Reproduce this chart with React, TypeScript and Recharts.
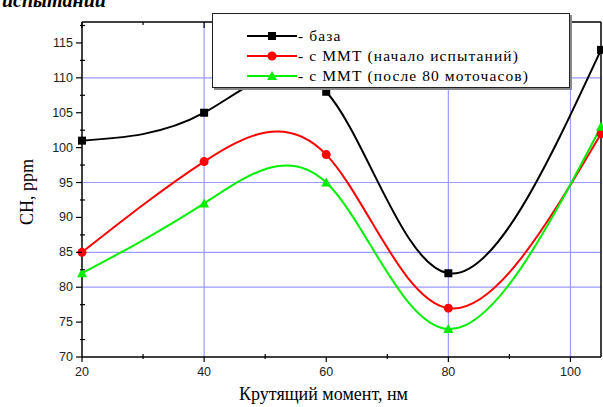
import { LineChart, Line, XAxis, YAxis, ReferenceLine, Legend } from "recharts";

// крутящий момент, нм
const torque = [20, 40, 60, 80, 105];
// CH, ppm
const baseCH = [101, 105, 108, 82, 114];
const mmtStartCH = [85, 98, 99, 77, 102];
const mmtAfter80CH = [82, 92, 95, 74, 103];

const seriesNames = ["база", "с ММТ (начало испытаний)", "с ММТ (после 80 моточасов)"];
const seriesColors = ["#000000", "#ff0000", "#00ee00"];

const xTicks = [20, 30, 40, 50, 60, 70, 80, 90, 100];
const yTicks = [70, 72.5, 75, 77.5, 80, 82.5, 85, 87.5, 90, 92.5, 95, 97.5, 100, 102.5, 105, 107.5, 110, 112.5, 115, 117.5];
const gridY = [80, 85, 95, 110];
const gridX = [40, 80, 100];

const data = torque.map((t, i) => ({
  t,
  base: baseCH[i],
  start: mmtStartCH[i],
  after: mmtAfter80CH[i],
}));

const tickFont = { fontFamily: "Liberation Sans, Arial, sans-serif", fontSize: 12.5, fill: "#222" };
const serif = "'Liberation Serif', 'Times New Roman', serif";
const gridColor = "#9a9aff";

const LeftTick = ({ x, y, payload }: any) => {
  const major = payload.value % 5 === 0;
  return (
    <g>
      <line x1={major ? x - 6 : x - 2} x2={major ? x : x + 3} y1={y} y2={y} stroke="#000" strokeWidth={1.2} />
      {major && (
        <text x={x - 9} y={y} dy={4} textAnchor="end" {...tickFont}>
          {payload.value}
        </text>
      )}
    </g>
  );
};

const RightTick = ({ x, y, payload }: any) => {
  const major = payload.value % 5 === 0;
  return <line x1={x} x2={x - (major ? 6 : 3)} y1={y} y2={y} stroke="#000" strokeWidth={1.2} />;
};

const BottomTick = ({ x, y, payload }: any) => {
  const major = payload.value % 20 === 0;
  return (
    <g>
      <line x1={x} x2={x} y1={major ? y + 5 : y + 2} y2={major ? y : y - 3} stroke="#000" strokeWidth={1.2} />
      {major && (
        <text x={x} y={y + 19} textAnchor="middle" {...tickFont}>
          {payload.value}
        </text>
      )}
    </g>
  );
};

const TopTick = ({ x, y, payload }: any) => {
  const major = payload.value % 20 === 0;
  return <line x1={x} x2={x} y1={y} y2={y + (major ? 6 : 3)} stroke="#000" strokeWidth={1.2} />;
};

const Square = ({ cx, cy, index }: any) => (
  <rect key={`s-${index}`} x={cx - 4} y={cy - 4} width={8} height={8} fill="#000" />
);
const Circle = ({ cx, cy, index }: any) => (
  <circle key={`c-${index}`} cx={cx} cy={cy} r={4.5} fill="#ff0000" />
);
const Triangle = ({ cx, cy, index }: any) => (
  <path key={`t-${index}`} d={`M${cx},${cy - 5}L${cx + 5},${cy + 4}L${cx - 5},${cy + 4}Z`} fill="#00ee00" />
);

const markerIcon = (i: number) => {
  const c = seriesColors[i];
  if (i === 0) return <rect x={21} y={2} width={8} height={8} fill={c} />;
  if (i === 1) return <circle cx={25} cy={6} r={4.5} fill={c} />;
  return <path d="M25,1L30,10L20,10Z" fill={c} />;
};

const LegendBox = () => (
  <div style={{ paddingTop: 12, paddingLeft: 34 }}>
    {seriesNames.map((name, i) => (
      <div key={name} style={{ display: "flex", alignItems: "center", height: 20 }}>
        <svg width={50} height={12}>
          <line x1={0} x2={50} y1={6} y2={6} stroke={seriesColors[i]} strokeWidth={2} />
          {markerIcon(i)}
        </svg>
        <span style={{ fontFamily: serif, fontSize: 15.5, color: "#000", letterSpacing: 1.1, marginLeft: 1 }}>
          - {name}
        </span>
      </div>
    ))}
  </div>
);

const axisLine = { stroke: "#000", strokeWidth: 1.5 };

export default function App() {
  return (
    <div style={{ position: "absolute", left: 0, top: 0, width: 603, height: 407, background: "#fff", overflow: "hidden" }}>
      <span
        style={{
          position: "absolute",
          left: 2,
          top: -10,
          fontFamily: serif,
          fontStyle: "italic",
          fontWeight: "bold",
          fontSize: 20,
          lineHeight: "20px",
          color: "#000",
        }}
      >
        испытании
      </span>
      <LineChart width={603} height={407} data={data} margin={{ top: 21, right: 1, bottom: 49, left: 81 }}>
        {gridY.map((v) => (
          <ReferenceLine key={`gy-${v}`} y={v} stroke={gridColor} strokeWidth={1.2} />
        ))}
        {gridX.map((v) => (
          <ReferenceLine key={`gx-${v}`} x={v} stroke={gridColor} strokeWidth={1.2} />
        ))}
        <XAxis
          dataKey="t"
          type="number"
          domain={[20, 105]}
          ticks={xTicks}
          interval={0}
          height={1}
          tickSize={0}
          tickMargin={0}
          tickLine={false}
          tick={BottomTick}
          axisLine={axisLine}
        />
        <XAxis
          xAxisId="top"
          orientation="top"
          dataKey="t"
          type="number"
          domain={[20, 105]}
          ticks={xTicks}
          interval={0}
          height={1}
          tickSize={0}
          tickMargin={0}
          tickLine={false}
          tick={TopTick}
          axisLine={axisLine}
        />
        <YAxis
          type="number"
          domain={[70, 118]}
          ticks={yTicks}
          interval={0}
          width={1}
          tickSize={0}
          tickMargin={0}
          tickLine={false}
          tick={LeftTick}
          axisLine={axisLine}
        />
        <YAxis
          yAxisId="right"
          orientation="right"
          type="number"
          domain={[70, 118]}
          ticks={yTicks}
          interval={0}
          width={1}
          tickSize={0}
          tickMargin={0}
          tickLine={false}
          tick={RightTick}
          axisLine={axisLine}
        />
        <Line type="natural" dataKey="base" name={seriesNames[0]} stroke={seriesColors[0]} strokeWidth={2} dot={Square} isAnimationActive={false} />
        <Line type="natural" dataKey="start" name={seriesNames[1]} stroke={seriesColors[1]} strokeWidth={2} dot={Circle} isAnimationActive={false} />
        <Line type="natural" dataKey="after" name={seriesNames[2]} stroke={seriesColors[2]} strokeWidth={2} dot={Triangle} isAnimationActive={false} />
        <Legend
          layout="vertical"
          align="center"
          verticalAlign="middle"
          content={LegendBox}
          wrapperStyle={{
            left: 212,
            top: 13,
            width: 358,
            height: 75,
            boxSizing: "border-box",
            background: "#fff",
            border: "1.5px solid #222",
            boxShadow: "2px 2px 0 #888",
          }}
        />
      </LineChart>
      <div
        style={{
          position: "absolute",
          left: 27,
          top: 192,
          transform: "translate(-50%, -50%) rotate(-90deg)",
          fontFamily: serif,
          fontSize: 18,
          whiteSpace: "nowrap",
          color: "#000",
        }}
      >
        CH, ppm
      </div>
      <div
        style={{
          position: "absolute",
          left: 0,
          width: 603,
          paddingLeft: 44,
          boxSizing: "border-box",
          top: 384,
          textAlign: "center",
          fontFamily: serif,
          fontSize: 18,
          color: "#000",
        }}
      >
        Крутящий момент, нм
      </div>
    </div>
  );
}
